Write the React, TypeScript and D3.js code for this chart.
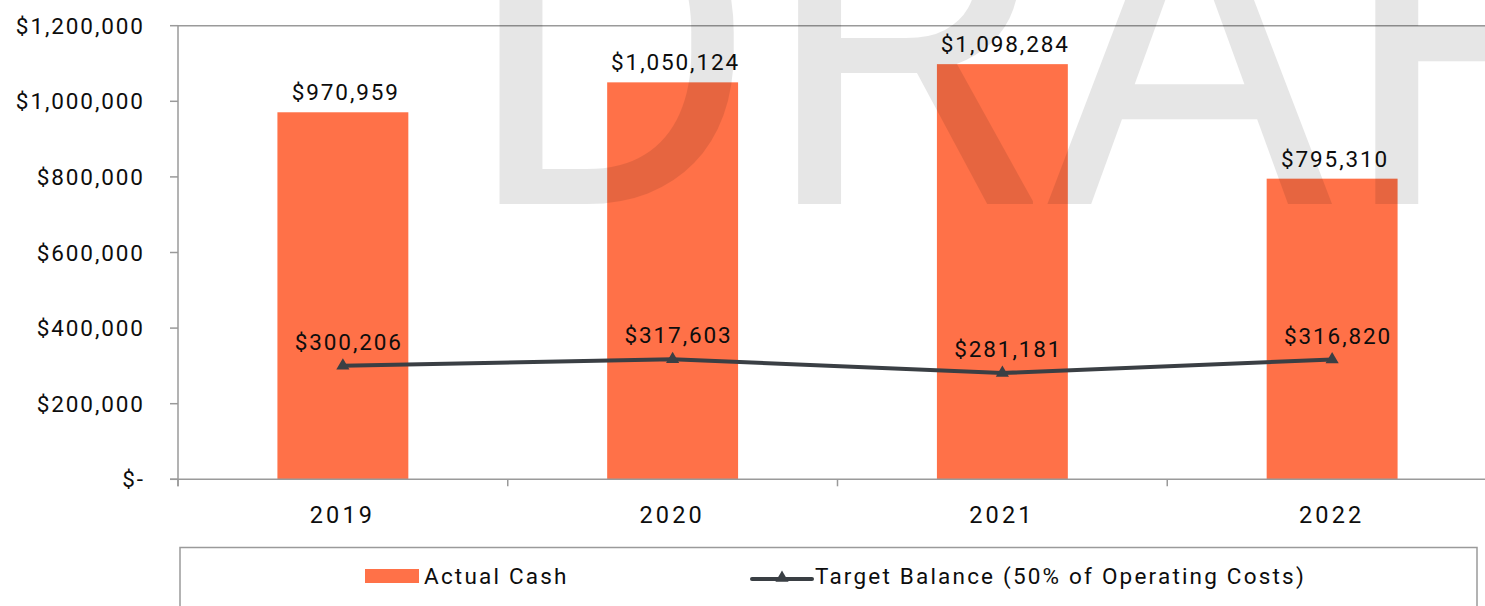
import React from "react";
import * as d3 from "d3";

const categories = ["2019", "2020", "2021", "2022"];
const actualCash = [970959, 1050124, 1098284, 795310];
const targetBalance = [300206, 317603, 281181, 316820];
const yTicks = [0, 200000, 400000, 600000, 800000, 1000000, 1200000];
const seriesNames = ["Actual Cash", "Target Balance (50% of Operating Costs)"];
const watermark = "DRAFT";

const W = 1485;
const H = 606;
const FONT = "Roboto, 'Noto Sans', sans-serif";
const BAR = "#FF7148";
const LINE = "#3A3F44";
const AXIS = "#9a9a9a";
const TXT = "#0d0d0d";

const fmtMoney = (v: number) => (v === 0 ? "$-" : "$" + d3.format(",")(v));

export default function App() {
  const left = 178;
  const right = 1497;
  const top = 25.7;
  const bottom = 479.3;

  const xOuter = d3.scaleBand<string>().domain(categories).range([left, right]);
  const y = d3.scaleLinear().domain([0, 1200000]).range([bottom, top]);

  const cx = (c: string) => (xOuter(c) as number) + xOuter.bandwidth() / 2;
  const barW = xOuter.bandwidth() * 0.397;

  const lineGen = d3
    .line<number>()
    .x((_, i) => cx(categories[i]))
    .y((d) => y(d));

  const tri = d3.symbol().type(d3.symbolTriangle).size(75)();

  const fs = 22.5;
  const ls = 1.9;
  const lsX = 3.2;
  const lsL = 2.2;

  return (
    <svg
      width={W}
      height={H}
      style={{ position: "absolute", left: 0, top: 0, background: "#fff" }}
      fontFamily={FONT}
    >
      <rect x={0} y={0} width={W} height={H} fill="#fff" />
      {/* top border */}
      <line x1={left} x2={W} y1={top} y2={top} stroke={AXIS} strokeWidth={1.5} />
      {/* y axis */}
      <line x1={left} x2={left} y1={top} y2={bottom + 7} stroke={AXIS} strokeWidth={1.5} />
      {yTicks.map((t) => (
        <g key={t}>
          <line x1={left - 8} x2={left} y1={y(t)} y2={y(t)} stroke={AXIS} strokeWidth={1.5} />
          <text
            x={143 + ls}
            y={y(t)}
            dy="0.36em"
            textAnchor="end"
            fontSize={fs}
            letterSpacing={ls}
            fill={TXT}
          >
            {fmtMoney(t)}
          </text>
        </g>
      ))}
      {/* bars */}
      {categories.map((c, i) => (
        <rect
          key={c}
          x={cx(c) - barW / 2}
          y={y(actualCash[i])}
          width={barW}
          height={bottom - y(actualCash[i])}
          fill={BAR}
        />
      ))}
      {/* x axis */}
      <line x1={left - 8} x2={W} y1={bottom} y2={bottom} stroke={AXIS} strokeWidth={1.5} />
      {categories.map((c) => (
        <line
          key={c}
          x1={xOuter(c) as number}
          x2={xOuter(c) as number}
          y1={bottom}
          y2={bottom + 7}
          stroke={AXIS}
          strokeWidth={1.5}
        />
      ))}
      {categories.map((c) => (
        <text key={c} x={cx(c) + lsX / 2 - 2} y={523} textAnchor="middle" fontSize={23.5} letterSpacing={lsX} fill={TXT}>
          {c}
        </text>
      ))}
      {/* watermark */}
      <text x={462} y={204} fontSize={455} fill="#000" opacity={0.095} fontFamily={FONT}>
        {watermark}
      </text>
      {/* line */}
      <path d={lineGen(targetBalance) || ""} fill="none" stroke={LINE} strokeWidth={4} />
      {targetBalance.map((v, i) => (
        <path key={i} d={tri || ""} transform={`translate(${cx(categories[i])},${y(v)})`} fill={LINE} />
      ))}
      {/* bar labels */}
      {categories.map((c, i) => (
        <text
          key={c}
          x={cx(c) + 2 + ls / 2}
          y={y(actualCash[i]) - 12}
          textAnchor="middle"
          fontSize={fs}
          letterSpacing={ls}
          fill={TXT}
        >
          {fmtMoney(actualCash[i])}
        </text>
      ))}
      {/* line labels */}
      {categories.map((c, i) => (
        <text
          key={c}
          x={cx(c) + 5 + ls / 2}
          y={y(targetBalance[i]) - 16}
          textAnchor="middle"
          fontSize={fs}
          letterSpacing={ls}
          fill={TXT}
        >
          {fmtMoney(targetBalance[i])}
        </text>
      ))}
      {/* legend */}
      <rect x={180} y={547.5} width={1297} height={80} fill="#fff" stroke={AXIS} strokeWidth={1.5} />
      <rect x={365} y={569} width={54} height={14} fill={BAR} />
      <text x={424} y={584} fontSize={fs} letterSpacing={lsL} fill={TXT}>
        {seriesNames[0]}
      </text>
      <line x1={752} x2={812} y1={579} y2={579} stroke={LINE} strokeWidth={4} strokeLinecap="round" />
      <path d={tri || ""} transform="translate(782,578)" fill={LINE} />
      <text x={815} y={584} fontSize={fs} letterSpacing={lsL} fill={TXT}>
        {seriesNames[1]}
      </text>
    </svg>
  );
}
